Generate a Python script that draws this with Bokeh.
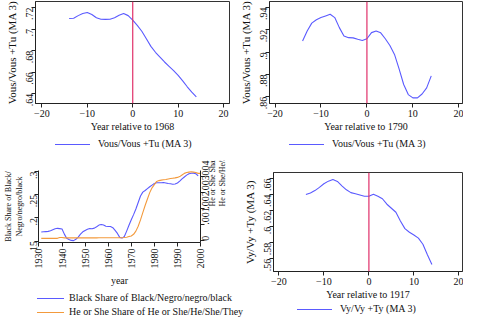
import math
from bokeh.plotting import figure
from bokeh.layouts import column, row
from bokeh.models import (Range1d, LinearAxis, FixedTicker, CustomJSTickFormatter, Span, Div)
from bokeh.embed import file_html
from bokeh.resources import INLINE

# ---------------- data ----------------
rel_years = list(range(-14, 15))
vous_1968 = [0.7098, 0.7100, 0.7125, 0.7145, 0.7154, 0.7135, 0.7105, 0.7092, 0.7090, 0.7092,
             0.7105, 0.7128, 0.7144, 0.7125, 0.7083, 0.7035, 0.6980, 0.6910, 0.6840, 0.6785,
             0.6740, 0.6695, 0.6655, 0.6615, 0.6570, 0.6520, 0.6465, 0.6415, 0.6372]
vous_1790 = [0.9100, 0.9190, 0.9260, 0.9290, 0.9310, 0.9325, 0.9340, 0.9310, 0.9220, 0.9145,
             0.9130, 0.9128, 0.9115, 0.9105, 0.9120, 0.9175, 0.9190, 0.9173, 0.9120, 0.9060,
             0.8980, 0.8850, 0.8710, 0.8620, 0.8590, 0.8590, 0.8625, 0.8680, 0.8788]
vy_1917 = [0.6400, 0.6420, 0.6450, 0.6490, 0.6535, 0.6568, 0.6588, 0.6565, 0.6510, 0.6460,
           0.6425, 0.6410, 0.6395, 0.6380, 0.6380, 0.6405, 0.6380, 0.6348, 0.6280, 0.6230,
           0.6180, 0.6070, 0.5975, 0.5930, 0.5895, 0.5857, 0.5780, 0.5650, 0.5528]

years_black = list(range(1931, 2000))
black_share = [0.1695, 0.1700, 0.1705, 0.1710, 0.1725, 0.1745, 0.1765, 0.1775, 0.1768,
               0.1760, 0.1650, 0.1560, 0.1535, 0.1515, 0.1510, 0.1540, 0.1585, 0.1650, 0.1700,
               0.1730, 0.1755, 0.1770, 0.1765, 0.1780, 0.1810, 0.1845, 0.1857, 0.1845, 0.1820,
               0.1815, 0.1815, 0.1790, 0.1730, 0.1665, 0.1580, 0.1565, 0.1600, 0.1715, 0.1840,
               0.1960, 0.2070, 0.2190, 0.2330, 0.2470, 0.2555, 0.2590, 0.2630, 0.2670, 0.2705,
               0.2740, 0.2757, 0.2757, 0.2757, 0.2760, 0.2750, 0.2740, 0.2735, 0.2725, 0.2730,
               0.2750, 0.2790, 0.2840, 0.2880, 0.2920, 0.2950, 0.2960, 0.2963, 0.2950, 0.2905]
years_heshe = list(range(1931, 2001))
heshe_share = [0.00015, 0.00015, 0.00015, 0.00015, 0.00015, 0.00015, 0.00015, 0.00015, 0.00020,
               0.00020, 0.00018, 0.00018, 0.00018, 0.00018, 0.00018, 0.00018, 0.00018, 0.00018, 0.00018,
               0.00018, 0.00018, 0.00018, 0.00018, 0.00018, 0.00018, 0.00019, 0.00019, 0.00019, 0.00019,
               0.00019, 0.00019, 0.00019, 0.00019, 0.00019, 0.00019, 0.00019, 0.00020, 0.00022, 0.00026,
               0.00030, 0.00040, 0.00060, 0.00090, 0.00130, 0.00175, 0.00220, 0.00260, 0.00300, 0.00330,
               0.00350, 0.00370, 0.00375, 0.00378, 0.00380, 0.00382, 0.00385, 0.00388, 0.00390, 0.00392,
               0.00395, 0.00400, 0.00410, 0.00420, 0.00425, 0.00428, 0.00430, 0.00428, 0.00425, 0.00420,
               0.00420]

rel_xticks = [-20, -10, 0, 10, 20]
yticks_1968 = [0.64, 0.66, 0.68, 0.70, 0.72]
yticks_1790 = [0.86, 0.88, 0.90, 0.92, 0.94]
yticks_1917 = [0.56, 0.58, 0.60, 0.62, 0.64, 0.66]
year_xticks = [1930, 1940, 1950, 1960, 1970, 1980, 1990, 2000]
yticks_black = [0.15, 0.20, 0.25, 0.30]
yticks_heshe = [0.0, 0.001, 0.002, 0.003, 0.004]

label_1968 = "Vous/Vous +Tu (MA 3)"
label_1790 = "Vous/Vous +Tu (MA 3)"
label_1917 = "Vy/Vy +Ty (MA 3)"
label_black = "Black Share of Black/Negro/negro/black"
label_heshe = "He or She Share of He or She/He/She/They"

# ---------------- style ----------------
FONT = "Liberation Serif"
TICK_FS = "10px"
TITLE_FS = "11px"
XTITLE_FS = "10px"
BLUE = "#5a5aff"
ORANGE = "#f39a3c"
RED = "#e0306a"

fmt = CustomJSTickFormatter(code="""
let s = (Math.round(tick*100000)/100000).toString();
if (s.startsWith('0.')) { s = s.slice(1); }
else if (s.startsWith('-0.')) { s = '-' + s.slice(2); }
return s;
""")


def style_axis(ax, ticks, rotate=False, formatter=None, lso=2, aso=2, tfs=TITLE_FS):
    ax.ticker = FixedTicker(ticks=ticks)
    ax.minor_tick_line_color = None
    ax.major_tick_in = 0
    ax.major_tick_out = 4
    ax.major_tick_line_color = "#222222"
    ax.axis_line_color = "#222222"
    ax.major_label_text_font = FONT
    ax.major_label_text_font_size = TICK_FS
    ax.major_label_text_color = "#111111"
    ax.axis_label_text_font = FONT
    ax.axis_label_text_font_size = tfs
    ax.axis_label_text_font_style = "normal"
    ax.axis_label_text_color = "#111111"
    ax.major_label_standoff = lso
    ax.axis_label_standoff = aso
    if rotate:
        ax.major_label_orientation = math.pi / 2
    if formatter is not None:
        ax.formatter = formatter


def legend_div(w, h, entries, left, gw, gap, row_h):
    """Legend strip under a panel: a short coloured line followed by the series label."""
    parts = []
    for i, (label, color) in enumerate(entries):
        top = i * row_h
        parts.append(
            f'<div style="position:absolute;left:{left}px;top:{top + row_h // 2}px;'
            f'width:{gw}px;height:0;border-top:1px solid {color};"></div>'
            f'<div style="position:absolute;left:{left + gw + gap}px;top:{top}px;'
            f'line-height:{row_h}px;white-space:nowrap;">{label}</div>')
    html = (f'<div style="position:relative;width:{w}px;height:{h}px;'
            f"font-family:'{FONT}';font-size:10px;color:#111111;\">" + "".join(parts) + "</div>")
    return Div(text=html, width=w, height=h, margin=0)


def event_panel(w, h, xr, yr, ml, mr, mt, mb, xs, ys, yticks, xtitle, ytitle):
    p = figure(width=w, height=h, sizing_mode="fixed",
               x_range=Range1d(*xr), y_range=Range1d(*yr),
               output_backend="svg", toolbar_location=None,
               min_border_left=ml, min_border_right=mr, min_border_top=mt, min_border_bottom=mb,
               border_fill_color=None, background_fill_color="white",
               outline_line_color="#333333", outline_line_width=1)
    p.grid.visible = False
    p.line(xs, ys, line_color=BLUE, line_width=1.1)
    p.add_layout(Span(location=0, dimension="height", line_color=RED, line_width=1.2))
    style_axis(p.xaxis[0], rel_xticks, tfs=XTITLE_FS, lso=2, aso=1)
    style_axis(p.yaxis[0], yticks, rotate=True, formatter=fmt, lso=2, aso=2)
    p.xaxis[0].axis_label = xtitle
    p.yaxis[0].axis_label = ytitle
    return p


# top row (page y 8..168)
pA = event_panel(232, 138, (-21.4, 21.3), (0.631, 0.7256), 35, 3, 1, 35,
                 rel_years, vous_1968, yticks_1968, "Year relative to 1968", label_1968)
lA = legend_div(232, 22, [(label_1968, BLUE)], 55, 35, 8, 12)
pB = event_panel(231, 138, (-21.2, 20.8), (0.854, 0.9454), 37, 1, 1, 35,
                 rel_years, vous_1790, yticks_1790, "Year relative to 1790", label_1790)
lB = legend_div(231, 22, [(label_1790, BLUE)], 57, 35, 8, 12)

# bottom right (page y 168..327)
pD = event_panel(223, 143, (-21.2, 20.8), (0.544, 0.6676), 33, 1, 12, 32,
                 rel_years, vy_1917, yticks_1917, "Year relative to 1917", label_1917)
lD = legend_div(223, 16, [(label_1917, BLUE)], 57, 35, 8, 12)

# bottom left: two series, two y axes
pC = figure(width=240, height=131, sizing_mode="fixed",
            x_range=Range1d(1929.8, 2000.0), y_range=Range1d(0.147, 0.302),
            output_backend="svg", toolbar_location=None,
            min_border_left=36, min_border_right=38, min_border_top=10, min_border_bottom=49,
            border_fill_color=None, background_fill_color="white", outline_line_color=None)
pC.grid.visible = False
pC.extra_y_ranges = {"heshe": Range1d(-0.00011, 0.00438)}
pC.line(years_black, black_share, line_color=BLUE, line_width=1.1)
pC.line(years_heshe, heshe_share, line_color=ORANGE, line_width=1.1, y_range_name="heshe")
style_axis(pC.xaxis[0], year_xticks, rotate=True, lso=2, aso=3, tfs=XTITLE_FS)
style_axis(pC.yaxis[0], yticks_black, rotate=True, formatter=fmt, lso=1, aso=0, tfs="8px")
pC.xaxis[0].axis_label = "year"
pC.yaxis[0].axis_label = "Black Share of Black/\nNegro/negro/black"
rax = LinearAxis(y_range_name="heshe", axis_label="He or She Share of\nHe or She/He/She/They")
style_axis(rax, yticks_heshe, rotate=True, formatter=fmt, lso=1, aso=2, tfs="8px")
rax.axis_label_orientation = math.pi / 2
pC.add_layout(rax, "right")
lC = legend_div(240, 28, [(label_black, BLUE), (label_heshe, ORANGE)], 37, 27, 5, 14)

layout = column(
    row(column(pA, lA, spacing=0), column(pB, lB, spacing=0), spacing=0),
    row(column(pC, lC, spacing=0), column(pD, lD, spacing=0), spacing=0),
    spacing=0,
)

open("out.html", "w").write(file_html(layout, INLINE))
